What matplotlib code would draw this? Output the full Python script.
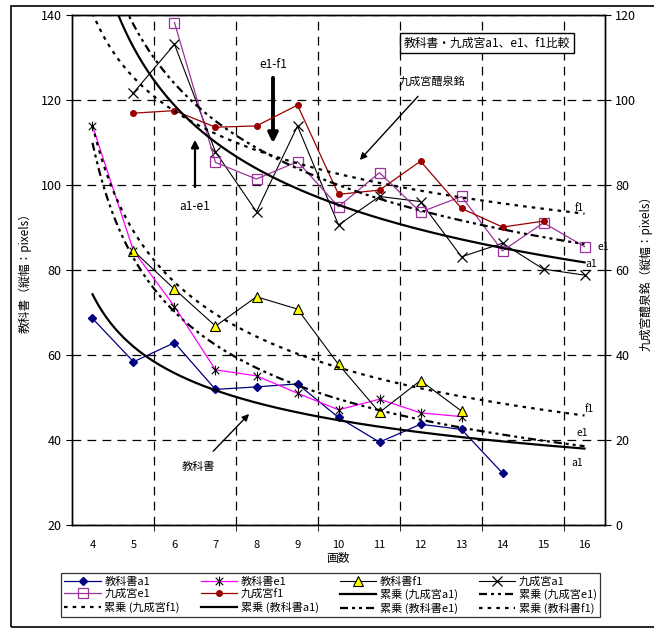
import numpy as np
import matplotlib
matplotlib.use("Agg")
import matplotlib.pyplot as plt
from matplotlib.path import Path
from matplotlib.patches import Rectangle

plt.rcParams['font.family'] = ['Noto Sans CJK JP', 'DejaVu Sans']

# ---------------- data ----------------
strokes = [4, 5, 6, 7, 8, 9, 10, 11, 12, 13, 14, 15, 16]

# 教科書 (left axis) : stroke counts and heights
tb_a1_x = [4, 5, 6, 7, 8, 9, 10, 11, 12, 13, 14]
tb_a1 = [68.6, 58.4, 62.9, 51.9, 52.5, 53.2, 45.3, 39.5, 43.7, 42.5, 32.2]
tb_e1_x = [4, 5, 6, 7, 8, 9, 10, 11, 12, 13]
tb_e1 = [113.9, 84.5, 71.4, 56.5, 55.1, 51.0, 47.1, 49.6, 46.4, 45.5]
tb_f1_x = [5, 6, 7, 8, 9, 10, 11, 12, 13]
tb_f1 = [84.5, 75.5, 66.8, 73.7, 70.8, 57.8, 46.5, 54.0, 46.8]

# 九成宮 (right axis)
kg_a1_x = [5, 6, 7, 8, 9, 10, 11, 12, 13, 14, 15, 16]
kg_a1 = [101.7, 113.1, 87.8, 73.7, 93.9, 70.6, 77.3, 76.1, 63.1, 66.3, 60.2, 58.8]
kg_e1_x = [6, 7, 8, 9, 10, 11, 12, 13, 14, 15, 16]
kg_e1 = [118.2, 85.3, 81.4, 85.5, 74.9, 82.9, 73.6, 77.3, 64.5, 71.1, 65.5]
kg_f1_x = [5, 6, 7, 8, 9, 10, 11, 12, 13, 14, 15]
kg_f1 = [96.9, 97.5, 93.6, 93.9, 98.8, 77.8, 78.8, 85.6, 74.5, 70.1, 71.5]

left_ticks = [20, 40, 60, 80, 100, 120, 140]
right_ticks = [0, 20, 40, 60, 80, 100, 120]

# ---------------- figure ----------------
W, H = 654, 631
fig = plt.figure(figsize=(W / 100, H / 100), dpi=100)


def fx(px):
    return px / W


def fy(py):
    return 1 - py / H


# outer chart frame
fig.add_artist(Rectangle((fx(11), fy(627)), fx(700) - fx(11), fy(6) - fy(627),
                         transform=fig.transFigure, fill=False, lw=1.2,
                         edgecolor='black'))

ax = fig.add_axes([fx(72), fy(525), fx(605) - fx(72), fy(15) - fy(525)])
ax2 = ax.twinx()

ax.set_xlim(3.5, 16.5)
ax.set_ylim(20, 140)
ax2.set_ylim(0, 120)
ax.set_yticks(left_ticks)
ax2.set_yticks(right_ticks)
ax.set_xticks(strokes)
ax.set_xticks(np.arange(5.5, 16.5, 2), minor=True)
ax.tick_params(axis='x', which='major', length=0, labelsize=8, pad=11)
ax.tick_params(axis='x', which='minor', length=4, direction='out')
ax.tick_params(axis='y', labelsize=9, length=4, direction='out')
ax2.tick_params(axis='y', labelsize=9, length=4, direction='out')

gridstyle = dict(color='black', lw=0.9, linestyle=(0, (7, 5)))
ax.grid(axis='x', which='minor', **gridstyle)
ax.grid(axis='y', which='major', **gridstyle)
ax.set_axisbelow(True)
for a in (ax, ax2):
    for s in a.spines.values():
        s.set_linewidth(1.0)

# asterisk marker (X + vertical bar)
star = Path([(-1, -1), (1, 1), (-1, 1), (1, -1), (0, -1.3), (0, 1.3)],
            [Path.MOVETO, Path.LINETO, Path.MOVETO, Path.LINETO,
             Path.MOVETO, Path.LINETO])

handles = {}
handles['教科書a1'], = ax.plot(tb_a1_x, tb_a1, color='#000080', lw=0.9,
                            marker='D', ms=4.5, mfc='#000080', mec='#000080')
handles['教科書e1'], = ax.plot(tb_e1_x, tb_e1, color='#FF00FF', lw=0.9,
                            marker=star, ms=7, mfc='none', mec='black', mew=0.8)
handles['教科書f1'], = ax.plot(tb_f1_x, tb_f1, color='black', lw=0.8,
                            marker='^', ms=7, mfc='#FFFF00', mec='black', mew=0.8)
handles['九成宮a1'], = ax2.plot(kg_a1_x, kg_a1, color='black', lw=0.8,
                             marker='x', ms=7, mec='black', mew=0.9)
handles['九成宮e1'], = ax2.plot(kg_e1_x, kg_e1, color='#993399', lw=0.9,
                             marker='s', ms=6.5, mfc='none', mec='#993399', mew=0.9)
handles['九成宮f1'], = ax2.plot(kg_f1_x, kg_f1, color='#990000', lw=0.9,
                             marker='o', ms=4, mfc='#990000', mec='#990000')

# power-law trendlines (Excel line-chart: x = category index 1..13)
first = strokes[0]
grid_x = np.linspace(strokes[0], strokes[-1], 300)
solid = '-'
longdash = (0, (3.6, 1.8, 1.35, 1.8, 1.35, 1.8))
dotted = (0, (1.6, 2.3))


def power_fit(xs, ys):
    idx = np.array(xs) - first + 1
    b, lna = np.polyfit(np.log(idx), np.log(ys), 1)
    return np.exp(lna) * (grid_x - first + 1) ** b


fit_specs = [
    ('累乗 (九成宮a1)', ax2, kg_a1_x, kg_a1, solid),
    ('累乗 (九成宮e1)', ax2, kg_e1_x, kg_e1, longdash),
    ('累乗 (九成宮f1)', ax2, kg_f1_x, kg_f1, dotted),
    ('累乗 (教科書a1)', ax, tb_a1_x, tb_a1, solid),
    ('累乗 (教科書e1)', ax, tb_e1_x, tb_e1, longdash),
    ('累乗 (教科書f1)', ax, tb_f1_x, tb_f1, dotted),
]
for name, a, xs, ys, ls in fit_specs:
    handles[name], = a.plot(grid_x, power_fit(xs, ys), color='black',
                            lw=1.6, linestyle=ls)

ax.set_xlabel('画数', fontsize=8.5, labelpad=1)
ax.set_ylabel('教科書（縦幅：pixels）', fontsize=8.5, labelpad=6)
ax2.set_ylabel('九成宮醴泉銘（縦幅：pixels）', fontsize=8.5, rotation=90,
               labelpad=2)

# title box
fig.text(fx(487), fy(43), '教科書・九成宮a1、e1、f1比較', fontsize=8.5,
         ha='center', va='center',
         bbox=dict(boxstyle='square,pad=0.3', fc='white', ec='black', lw=1))

# annotations
arrowkw = dict(arrowstyle='-|>', color='black', lw=1.0, mutation_scale=10)
fig.text(fx(273), fy(64), 'e1-f1', fontsize=8.5, ha='center', va='center')
ax.annotate('', xy=(fx(273), fy(146)), xycoords='figure fraction',
            xytext=(fx(273), fy(75)), textcoords='figure fraction',
            arrowprops=dict(arrowstyle='-|>', color='black', lw=2.8,
                            mutation_scale=14))
ax.annotate('a1-e1', xy=(fx(195), fy(137)), xycoords='figure fraction',
            xytext=(fx(195), fy(206)), textcoords='figure fraction',
            fontsize=8.5, ha='center', va='center',
            arrowprops=dict(arrowstyle='-|>', color='black', lw=1.6,
                            mutation_scale=11, shrinkA=7))
ax.annotate('九成宮醴泉銘', xy=(fx(358), fy(162)), xycoords='figure fraction',
            xytext=(fx(432), fy(81)), textcoords='figure fraction',
            fontsize=8, ha='center', va='center',
            arrowprops=dict(**arrowkw, shrinkA=7))
ax.annotate('教科書', xy=(fx(251), fy(412)), xycoords='figure fraction',
            xytext=(fx(198), fy(467)), textcoords='figure fraction',
            fontsize=8, ha='center', va='center',
            arrowprops=dict(**arrowkw, shrinkA=8))

# trendline labels
for txt, px, py in [('f1', 579, 208), ('e1', 603, 247), ('a1', 591, 264),
                    ('f1', 589, 409), ('e1', 582, 433), ('a1', 577, 463)]:
    fig.text(fx(px), fy(py), txt, fontsize=7.5, ha='center', va='center')

# legend (row-major order as in the reference)
order = ['教科書a1', '教科書e1', '教科書f1', '九成宮a1',
         '九成宮e1', '九成宮f1', '累乗 (九成宮a1)', '累乗 (九成宮e1)',
         '累乗 (九成宮f1)', '累乗 (教科書a1)', '累乗 (教科書e1)', '累乗 (教科書f1)']
ncol, nrow = 4, 3
colmajor = [order[r * ncol + c] for c in range(ncol) for r in range(nrow)]
leg = fig.legend([handles[k] for k in colmajor], colmajor, ncol=ncol,
                 loc='lower left',
                 bbox_to_anchor=(fx(61), fy(617), fx(600) - fx(61), fy(571) - fy(617)),
                 mode='expand', fontsize=8, frameon=True, fancybox=False,
                 edgecolor='black', handlelength=3.3, handletextpad=0.3,
                 columnspacing=0.6, borderpad=0.3, labelspacing=0.2,
                 borderaxespad=0)
leg.get_frame().set_linewidth(0.9)

fig.savefig('out.png', dpi=100)
